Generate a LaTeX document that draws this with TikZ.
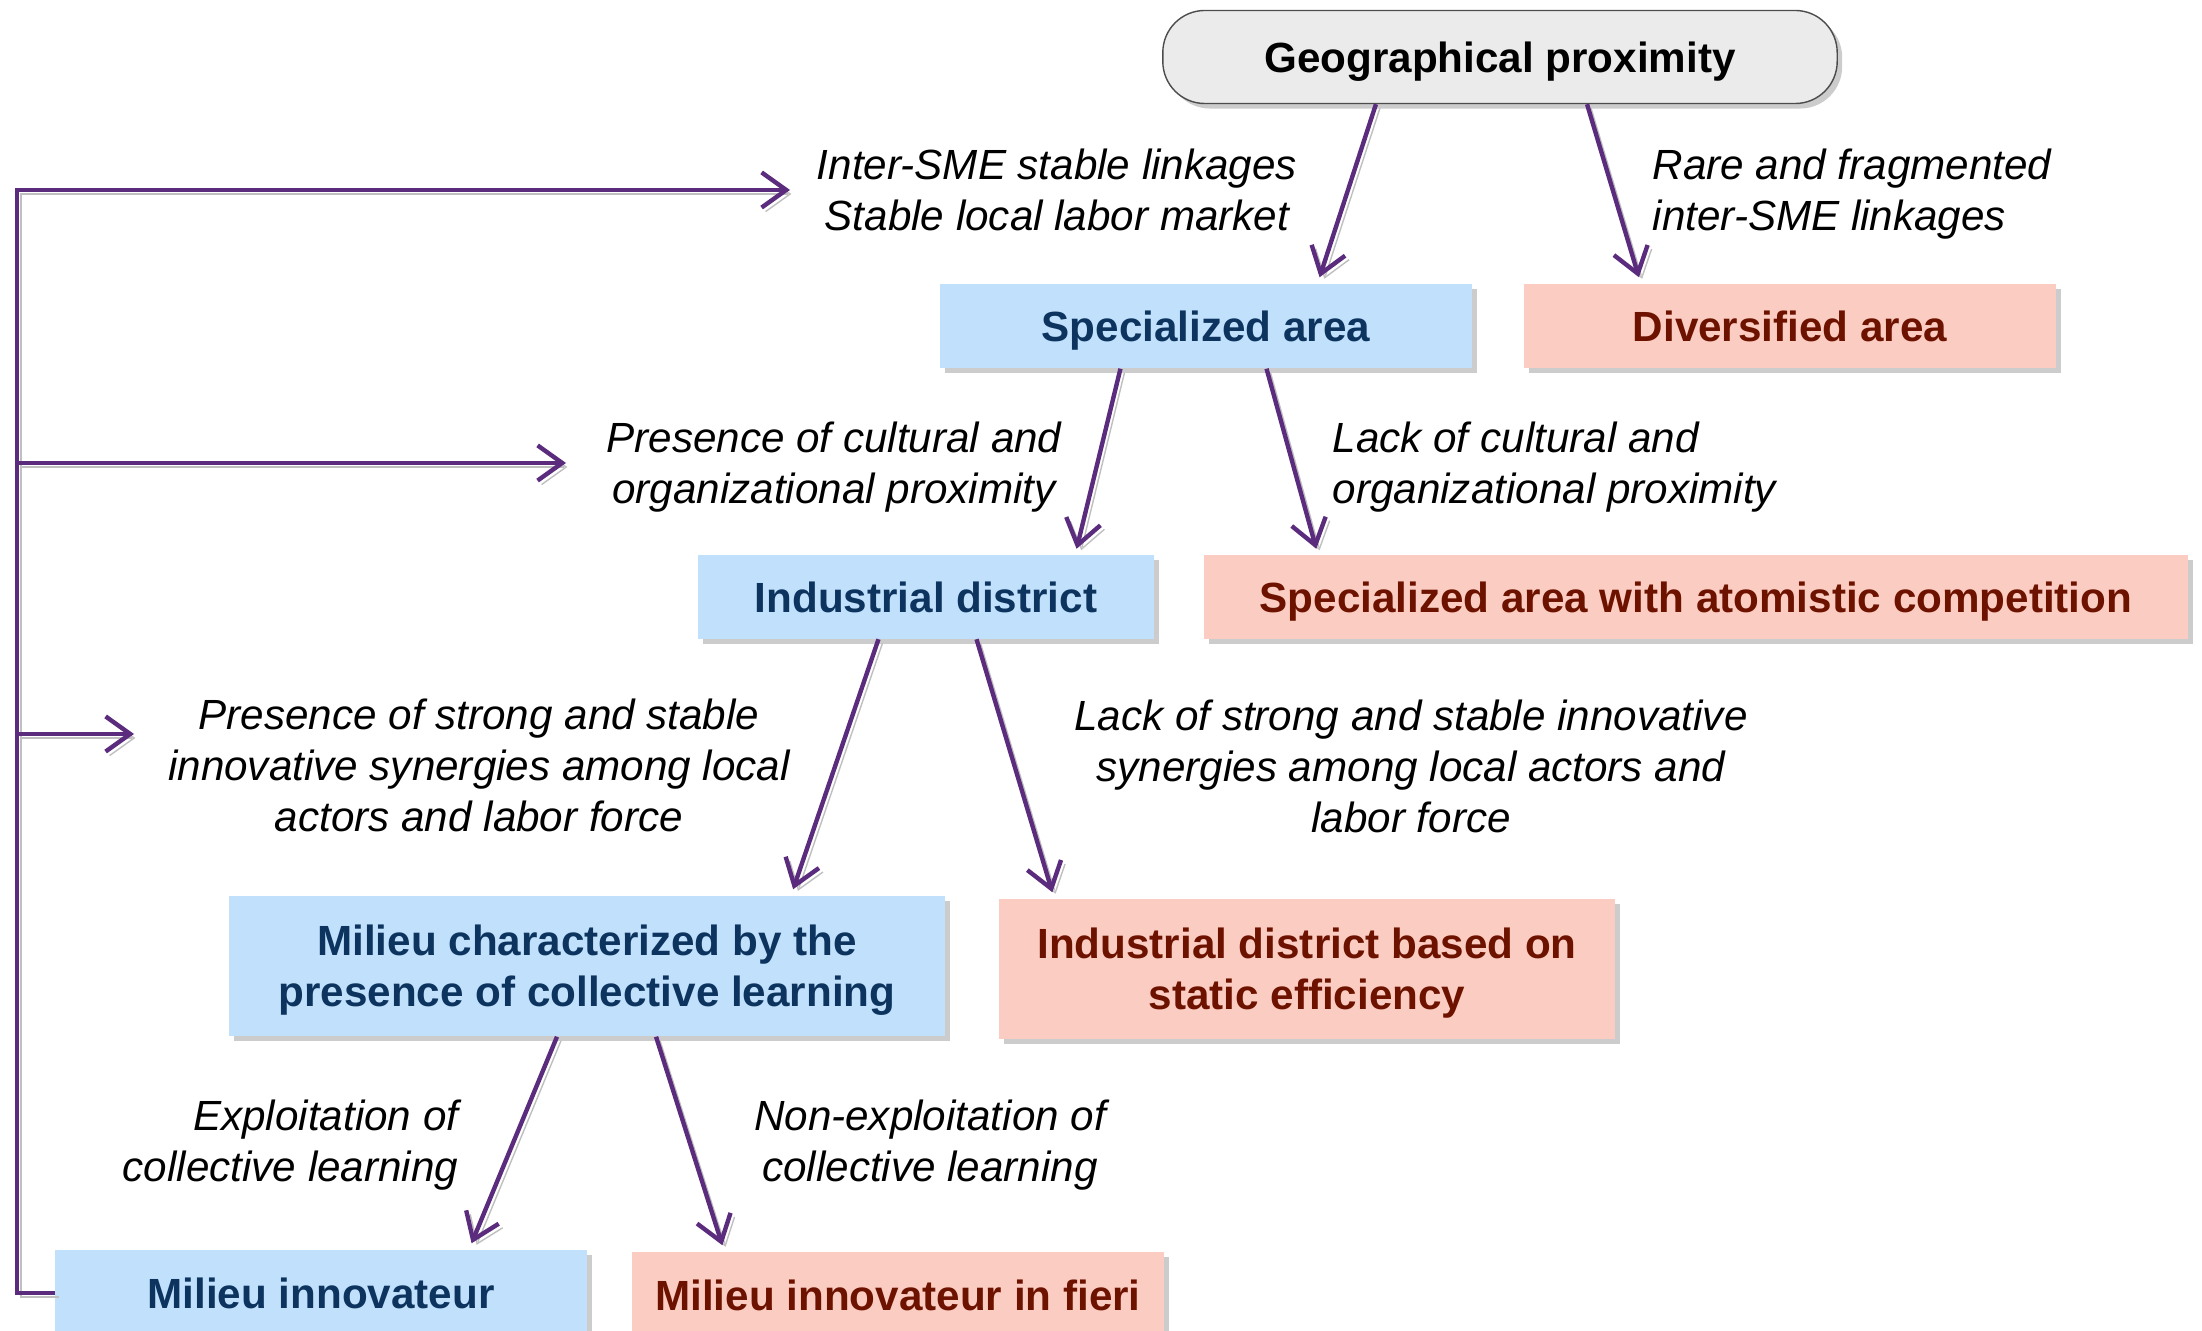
\documentclass[tikz,border=0pt]{standalone}
\usepackage{fontspec}
\setmainfont{Liberation Sans}
\usetikzlibrary{arrows.meta,shadows}

\definecolor{arrowpurple}{HTML}{5B2C7D}
\definecolor{bluefill}{HTML}{C1E0FB}
\definecolor{bluetext}{HTML}{0C345E}
\definecolor{redfill}{HTML}{FBCCC2}
\definecolor{redtext}{HTML}{6E1200}
\definecolor{greyfill}{HTML}{EBEBEB}

\begin{document}
\begin{tikzpicture}[x=0.01cm, y=-0.01cm,
  every node/.style={align=center},
  outcome/.style={rectangle, font=\fontsize{12}{14.5}\selectfont\bfseries, text depth=0pt,
    drop shadow={shadow xshift=0.05cm, shadow yshift=-0.05cm, fill=black!40, opacity=0.5}},
  yes/.style={outcome, fill=bluefill, text=bluetext},
  no/.style={outcome, fill=redfill, text=redtext},
  cond/.style={font=\fontsize{12}{14.5}\selectfont\itshape, inner sep=0pt, text depth=0pt},
  flow/.style={-{Straight Barb[length=7pt,width=10pt]}, line width=1.25pt, draw=arrowpurple,
    preaction={draw=black!25, transform canvas={shift={(0.04cm,-0.04cm)}}}}
]
\useasboundingbox (0,0) rectangle (2202,1331);

% Root
\node[rectangle, rounded corners=0.42cm, draw=black!70, fill=greyfill, font=\fontsize{12}{14.5}\selectfont\bfseries, text depth=0pt,
  minimum width=6.74cm, minimum height=0.93cm, drop shadow={shadow xshift=0.05cm, shadow yshift=-0.05cm, fill=black!40, opacity=0.5}] (geo) at (1500,57) {Geographical proximity};

% Level 1
\node[yes, minimum width=5.31cm, minimum height=0.84cm] (spec) at (1206,326) {Specialized area};
\node[no, minimum width=5.31cm, minimum height=0.84cm] (div) at (1790,326) {Diversified area};

% Level 2
\node[yes, minimum width=4.55cm, minimum height=0.83cm] (ind) at (926,597) {Industrial district};
\node[no, minimum width=9.83cm, minimum height=0.83cm] (atom) at (1696,597) {Specialized area with atomistic competition};

% Level 3
\node[yes, minimum width=7.16cm, minimum height=1.40cm] (mil) at (587,966) {Milieu characterized by the\\presence of collective learning};
\node[no, minimum width=6.15cm, minimum height=1.40cm] (stat) at (1307,969) {Industrial district based on\\static efficiency};

% Level 4
\node[yes, minimum width=5.31cm, minimum height=0.86cm] (inn) at (321,1293) {Milieu innovateur};
\node[no, minimum width=5.31cm, minimum height=0.86cm] (fieri) at (898,1295) {Milieu innovateur in fieri};

% Conditions
\node[cond] (c1) at (1057,190) {Inter-SME stable linkages\\Stable local labor market};
\node[cond, anchor=west, align=left] (c2) at (1652,190) {Rare and fragmented\\inter-SME linkages};
\node[cond] (c3) at (834,463) {Presence of cultural and\\organizational proximity};
\node[cond, anchor=west, align=left] (c4) at (1332,463) {Lack of cultural and\\organizational proximity};
\node[cond] (c5) at (479,765) {Presence of strong and stable\\innovative synergies among local\\actors and labor force};
\node[cond] (c6) at (1411,766) {Lack of strong and stable innovative\\synergies among local actors and\\labor force};
\node[cond, anchor=east, align=right] (c7) at (459,1141) {Exploitation of\\collective learning};
\node[cond] (c8) at (930,1141) {Non-exploitation of\\collective learning};

% Tree arrows
\draw[flow] ([xshift=-1.24cm]geo.south) -- ([xshift=1.135cm, yshift=0.06cm]spec.north);
\draw[flow] ([xshift=0.87cm]geo.south) -- ([xshift=-1.51cm, yshift=0.06cm]div.north);
\draw[flow] ([xshift=-0.855cm]spec.south) -- ([xshift=1.505cm, yshift=0.06cm]ind.north);
\draw[flow] ([xshift=0.605cm]spec.south) -- ([xshift=-3.795cm, yshift=0.06cm]atom.north);
\draw[flow] ([xshift=-0.475cm]ind.south) -- ([xshift=2.06cm, yshift=0.06cm]mil.north);
\draw[flow] ([xshift=0.505cm]ind.south) -- ([xshift=-2.545cm, yshift=0.06cm]stat.north);
\draw[flow] ([xshift=-0.3cm]mil.south) -- ([xshift=1.505cm, yshift=0.06cm]inn.north);
\draw[flow] ([xshift=0.69cm]mil.south) -- ([xshift=-1.755cm, yshift=0.06cm]fieri.north);

% Feedback rail
\coordinate (rail) at (17,190);
\coordinate (fb1) at (790,190);
\coordinate (fb2s) at (17,463);
\coordinate (fb2) at (566,463);
\coordinate (fb3s) at (17,734);
\coordinate (fb3) at (134,734);
\draw[flow] (inn.west) -| (rail) -- (fb1);
\draw[flow] (fb2s) -- (fb2);
\draw[flow] (fb3s) -- (fb3);

\end{tikzpicture}
\end{document}
